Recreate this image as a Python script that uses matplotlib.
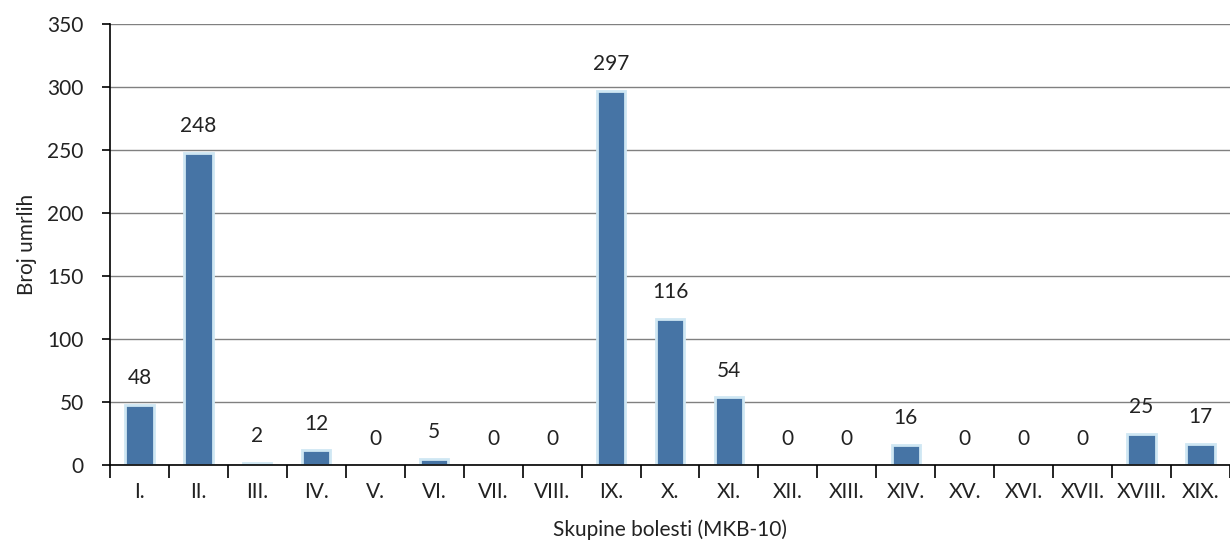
import numpy as np
import matplotlib.pyplot as plt

plt.rcParams['font.family'] = ['Lato', 'DejaVu Sans']

groups = ['I.', 'II.', 'III.', 'IV.', 'V.', 'VI.', 'VII.', 'VIII.', 'IX.', 'X.',
          'XI.', 'XII.', 'XIII.', 'XIV.', 'XV.', 'XVI.', 'XVII.', 'XVIII.', 'XIX.']
deaths = [48, 248, 2, 12, 0, 5, 0, 0, 297, 116, 54, 0, 0, 16, 0, 0, 0, 25, 17]

fig = plt.figure(figsize=(12.3, 5.43), dpi=100)
ax = fig.add_axes([0.0894, 0.1436, 0.9106, 0.8122])

x = np.arange(len(groups))
widths = [2 if v > 0 else 0 for v in deaths]
ax.bar(x, deaths, width=0.48, color='#4674a5', edgecolor='#cfe7f3',
       linewidth=widths, zorder=2)

for xi, v in zip(x, deaths):
    ax.annotate(str(v), (xi, v), xytext=(0, 19), textcoords='offset points',
                ha='center', va='center', fontsize=15, color='#222222')

ax.set_xlim(-0.5, len(groups) - 0.5)
ax.set_ylim(0, 350)
ax.set_yticks(np.arange(0, 351, 50))
ax.yaxis.grid(True, color='#808080', linewidth=1)
ax.set_axisbelow(True)

ax.set_xticks(x)
ax.set_xticklabels(groups)
ax.set_xticks(np.arange(-0.5, len(groups), 1), minor=True)
ax.tick_params(axis='x', which='major', length=0, pad=12, labelsize=15, colors='#222222')
ax.tick_params(axis='x', which='minor', length=9, width=1.2, direction='out')
ax.tick_params(axis='y', length=6, width=1.2, pad=13, labelsize=15, colors='#222222')
ax.tick_params(axis='both', which='both', color='black')

for s in ['top', 'right']:
    ax.spines[s].set_visible(False)
for s in ['left', 'bottom']:
    ax.spines[s].set_linewidth(1.2)

ax.set_xlabel('Skupine bolesti (MKB-10)', fontsize=15, color='#222222', labelpad=13)
ax.set_ylabel('Broj umrlih', fontsize=15, color='#222222', labelpad=7)

fig.savefig('out.png', dpi=100)
